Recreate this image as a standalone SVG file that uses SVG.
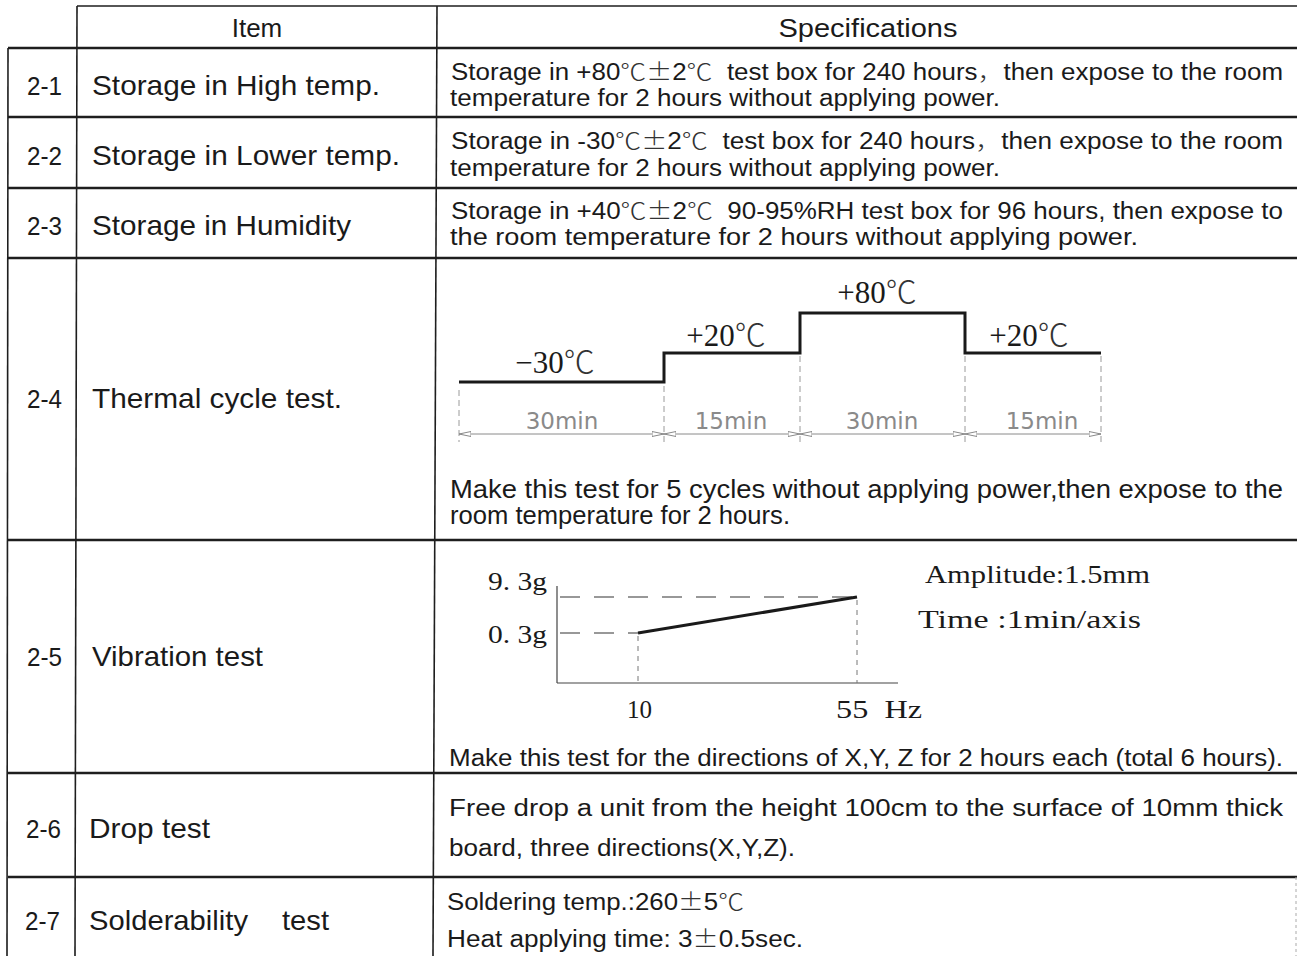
<svg xmlns="http://www.w3.org/2000/svg" width="1297" height="956" viewBox="0 0 1297 956">
<style>
.bg{fill:#ffffff}
.grid{stroke:#1e1e1e;stroke-width:1.6;fill:none}
.hgrid{stroke:#1e1e1e;stroke-width:2.4;fill:none}
.t{font-family:"Liberation Sans","Noto Sans CJK SC",sans-serif;fill:#1a1a1a;white-space:pre}
.num{font-size:25px}
.item{font-size:28px}
.spec{font-size:23px}
.cjk{font-family:"Noto Sans CJK JP","Noto Sans CJK SC",sans-serif;font-weight:300;fill:#333}
.ser{font-family:"Liberation Serif","Noto Sans CJK SC",serif;fill:#1a1a1a;white-space:pre}
.dim{font-family:"DejaVu Sans","Noto Sans",sans-serif;font-size:23px;fill:#8a8a8a}
.curve{stroke:#1a1a1a;stroke-width:3;fill:none}
.ext{stroke:#9a9a9a;stroke-width:1;stroke-dasharray:6 4;fill:none}
.dimline{stroke:#8a8a8a;stroke-width:1;fill:none}
.axis{stroke:#444;stroke-width:1.2;fill:none}
.dash{stroke:#333;stroke-width:1.2;stroke-dasharray:20 14;fill:none}
.fdash{stroke:#777;stroke-width:1;stroke-dasharray:5 5;fill:none}
</style>
<defs>
<marker id="arr" viewBox="0 0 12 6" refX="12" refY="3" markerWidth="12" markerHeight="6" markerUnits="userSpaceOnUse" orient="auto-start-reverse">
<path d="M0,0.5 L12,3 L0,5.5 z" fill="#ffffff" stroke="#8a8a8a" stroke-width="1"/>
</marker>
</defs>
<rect class="bg" x="0" y="0" width="1297" height="956"/>

<g id="connectors">
<line class="grid" x1="77" y1="6" x2="1297" y2="6"/>
<line class="hgrid" x1="8" y1="48" x2="1297" y2="48"/>
<line class="hgrid" x1="8" y1="117" x2="1297" y2="117"/>
<line class="hgrid" x1="8" y1="188" x2="1297" y2="188"/>
<line class="hgrid" x1="8" y1="258" x2="1297" y2="258"/>
<line class="hgrid" x1="8" y1="540" x2="1297" y2="540"/>
<line class="hgrid" x1="8" y1="773" x2="1297" y2="773"/>
<line class="hgrid" x1="8" y1="877" x2="1297" y2="877"/>
<line class="grid" x1="8" y1="48" x2="7" y2="956"/>
<line class="grid" x1="77" y1="6" x2="75" y2="956"/>
<line class="grid" x1="437" y1="6" x2="433" y2="956"/>
<line x1="1296" y1="877" x2="1296" y2="956" stroke="#aaaaaa" stroke-width="1" stroke-dasharray="3 3"/>
</g>

<g id="header">
<text class="t" x="257" y="37" font-size="26" text-anchor="middle">Item</text>
<text class="t" x="868" y="37" font-size="26" text-anchor="middle" textLength="179" lengthAdjust="spacingAndGlyphs">Specifications</text>
</g>

<g id="row-2-1">
<text class="t num" x="27" y="95" textLength="35" lengthAdjust="spacingAndGlyphs">2-1</text>
<text class="t item" x="92" y="95" textLength="288" lengthAdjust="spacingAndGlyphs">Storage in High temp.</text>
<text class="t spec" x="451" y="80" textLength="832" lengthAdjust="spacingAndGlyphs">Storage in +80<tspan class="cjk">℃±</tspan>2<tspan class="cjk">℃</tspan>  test box for 240 hours<tspan class="cjk">，</tspan>then expose to the room</text>
<text class="t spec" x="450" y="106" textLength="550" lengthAdjust="spacingAndGlyphs">temperature for 2 hours without applying power.</text>
</g>

<g id="row-2-2">
<text class="t num" x="27" y="165" textLength="35" lengthAdjust="spacingAndGlyphs">2-2</text>
<text class="t item" x="92" y="165" textLength="308" lengthAdjust="spacingAndGlyphs">Storage in Lower temp.</text>
<text class="t spec" x="451" y="149" textLength="832" lengthAdjust="spacingAndGlyphs">Storage in -30<tspan class="cjk">℃±</tspan>2<tspan class="cjk">℃</tspan>  test box for 240 hours<tspan class="cjk">，</tspan>then expose to the room</text>
<text class="t spec" x="450" y="176" textLength="550" lengthAdjust="spacingAndGlyphs">temperature for 2 hours without applying power.</text>
</g>

<g id="row-2-3">
<text class="t num" x="27" y="235" textLength="35" lengthAdjust="spacingAndGlyphs">2-3</text>
<text class="t item" x="92" y="235" textLength="259" lengthAdjust="spacingAndGlyphs">Storage in Humidity</text>
<text class="t spec" x="451" y="219" textLength="832" lengthAdjust="spacingAndGlyphs">Storage in +40<tspan class="cjk">℃±</tspan>2<tspan class="cjk">℃</tspan>  90-95%RH test box for 96 hours, then expose to</text>
<text class="t spec" x="450" y="245" textLength="688" lengthAdjust="spacingAndGlyphs">the room temperature for 2 hours without applying power.</text>
</g>

<g id="row-2-4">
<text class="t num" x="27" y="408" textLength="35" lengthAdjust="spacingAndGlyphs">2-4</text>
<text class="t item" x="92" y="408" textLength="250" lengthAdjust="spacingAndGlyphs">Thermal cycle test.</text>
<g id="thermal-chart">
<path class="curve" d="M459,382 H664 V353 H800 V313 H965 V353 H1101"/>
<text class="ser" x="555" y="373" font-size="31" text-anchor="middle">−30<tspan class="cjk">℃</tspan></text>
<text class="ser" x="726" y="346" font-size="31" text-anchor="middle">+20<tspan class="cjk">℃</tspan></text>
<text class="ser" x="877" y="303" font-size="31" text-anchor="middle">+80<tspan class="cjk">℃</tspan></text>
<text class="ser" x="1029" y="346" font-size="31" text-anchor="middle">+20<tspan class="cjk">℃</tspan></text>
<line class="ext" x1="459" y1="390" x2="459" y2="442"/>
<line class="ext" x1="664" y1="386" x2="664" y2="442"/>
<line class="ext" x1="800" y1="356" x2="800" y2="442"/>
<line class="ext" x1="965" y1="356" x2="965" y2="442"/>
<line class="ext" x1="1101" y1="356" x2="1101" y2="442"/>
<line class="dimline" x1="459" y1="434" x2="664" y2="434" marker-start="url(#arr)" marker-end="url(#arr)"/>
<line class="dimline" x1="664" y1="434" x2="800" y2="434" marker-start="url(#arr)" marker-end="url(#arr)"/>
<line class="dimline" x1="800" y1="434" x2="965" y2="434" marker-start="url(#arr)" marker-end="url(#arr)"/>
<line class="dimline" x1="965" y1="434" x2="1101" y2="434" marker-start="url(#arr)" marker-end="url(#arr)"/>
<text class="dim" x="562" y="429" text-anchor="middle">30min</text>
<text class="dim" x="731" y="429" text-anchor="middle">15min</text>
<text class="dim" x="882" y="429" text-anchor="middle">30min</text>
<text class="dim" x="1042" y="429" text-anchor="middle">15min</text>
</g>
<text class="t" x="450" y="498" font-size="25" textLength="833" lengthAdjust="spacingAndGlyphs">Make this test for 5 cycles without applying power,then expose to the</text>
<text class="t" x="450" y="524" font-size="25" textLength="340" lengthAdjust="spacingAndGlyphs">room temperature for 2 hours.</text>
</g>

<g id="row-2-5">
<text class="t num" x="27" y="666" textLength="35" lengthAdjust="spacingAndGlyphs">2-5</text>
<text class="t item" x="92" y="666" textLength="171" lengthAdjust="spacingAndGlyphs">Vibration test</text>
<g id="vibration-chart">
<line class="axis" x1="557" y1="586" x2="557" y2="683"/>
<line class="axis" x1="557" y1="683" x2="898" y2="683"/>
<line class="dash" x1="560" y1="597" x2="857" y2="597"/>
<line class="dash" x1="560" y1="633" x2="638" y2="633" stroke-dasharray="24 12"/>
<line class="fdash" x1="638" y1="636" x2="638" y2="683"/>
<line class="fdash" x1="857" y1="600" x2="857" y2="683"/>
<line class="curve" x1="638" y1="633" x2="857" y2="597"/>
<text class="ser" x="488" y="590" font-size="26" textLength="59" lengthAdjust="spacingAndGlyphs">9. 3g</text>
<text class="ser" x="488" y="643" font-size="26" textLength="59" lengthAdjust="spacingAndGlyphs">0. 3g</text>
<text class="ser" x="627" y="718" font-size="26" textLength="25" lengthAdjust="spacingAndGlyphs">10</text>
<text class="ser" x="836" y="718" font-size="26" textLength="86" lengthAdjust="spacingAndGlyphs">55  Hz</text>
<text class="ser" x="925" y="583" font-size="26" textLength="225" lengthAdjust="spacingAndGlyphs">Amplitude:1.5mm</text>
<text class="ser" x="918" y="628" font-size="26" textLength="223" lengthAdjust="spacingAndGlyphs">Time :1min/axis</text>
</g>
<text class="t spec" x="449" y="766" textLength="834" lengthAdjust="spacingAndGlyphs">Make this test for the directions of X,Y, Z for 2 hours each (total 6 hours).</text>
</g>

<g id="row-2-6">
<text class="t num" x="26" y="838" textLength="35" lengthAdjust="spacingAndGlyphs">2-6</text>
<text class="t item" x="89" y="838" textLength="121" lengthAdjust="spacingAndGlyphs">Drop test</text>
<text class="t spec" x="449" y="816" textLength="834" lengthAdjust="spacingAndGlyphs">Free drop a unit from the height 100cm to the surface of 10mm thick</text>
<text class="t spec" x="449" y="856" textLength="346" lengthAdjust="spacingAndGlyphs">board, three directions(X,Y,Z).</text>
</g>

<g id="row-2-7">
<text class="t num" x="25" y="930" textLength="35" lengthAdjust="spacingAndGlyphs">2-7</text>
<text class="t item" x="89" y="930" textLength="159" lengthAdjust="spacingAndGlyphs">Solderability</text>
<text class="t item" x="282" y="930" textLength="47" lengthAdjust="spacingAndGlyphs">test</text>
<text class="t spec" x="447" y="910" textLength="297" lengthAdjust="spacingAndGlyphs">Soldering temp.:260<tspan class="cjk">±</tspan>5<tspan class="cjk">℃</tspan></text>
<text class="t spec" x="447" y="947" textLength="356" lengthAdjust="spacingAndGlyphs">Heat applying time: 3<tspan class="cjk">±</tspan>0.5sec.</text>
</g>
</svg>
